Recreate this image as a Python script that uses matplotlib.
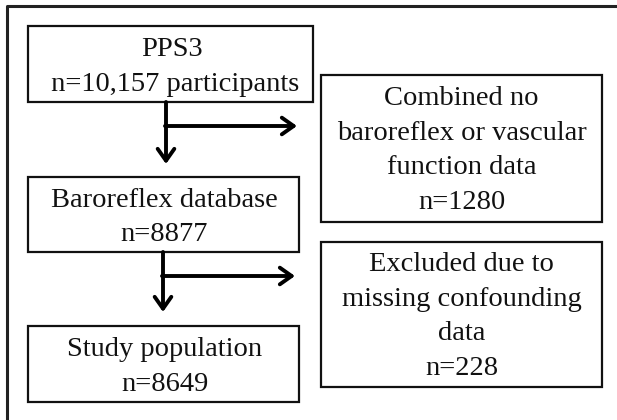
import matplotlib
matplotlib.use("Agg")
import matplotlib.pyplot as plt
from matplotlib.patches import Rectangle

# Flowchart content
main_labels = ["PPS3\n n=10,157 participants",
               "Baroreflex database\nn=8877",
               "Study population\nn=8649"]
excl_labels = ["Combined no\nbaroreflex or vascular\nfunction data\nn=1280",
               "Excluded due to\nmissing confounding\ndata\nn=228"]

plt.rcParams['font.family'] = ['Liberation Serif', 'DejaVu Serif']

fig = plt.figure(figsize=(6.17, 4.20), dpi=100)
ax = fig.add_axes([0, 0, 1, 1])
ax.set_xlim(0, 617)
ax.set_ylim(420, 0)
ax.axis('off')

# outer frame (top and left visible, clipped right/bottom)
ax.plot([7, 7, 617], [420, 6, 6], color='#222222', lw=2.2, solid_capstyle='butt')

main_boxes = [(28, 26, 313, 102), (28, 177, 299, 252), (28, 326, 299, 402)]
excl_boxes = [(321, 75, 602, 222), (321, 242, 602, 387)]

FS = 20.5
LS = 1.5
for (x0, y0, x1, y1), lab in zip(main_boxes, main_labels):
    ax.add_patch(Rectangle((x0, y0), x1 - x0, y1 - y0, fill=False, ec='#111111', lw=1.6))
    ax.text((x0 + x1) / 2 + 1, (y0 + y1) / 2 + 3, lab, ha='center', va='center',
            fontsize=FS, linespacing=LS, color='#111111')
for (x0, y0, x1, y1), lab in zip(excl_boxes, excl_labels):
    ax.add_patch(Rectangle((x0, y0), x1 - x0, y1 - y0, fill=False, ec='#111111', lw=1.6))
    ax.text((x0 + x1) / 2, (y0 + y1) / 2 + 2, lab, ha='center', va='center',
            fontsize=FS, linespacing=LS, color='#111111')

arrow_kw = dict(arrowstyle='->,head_length=0.85,head_width=0.6', lw=2.8, color='black',
                shrinkA=0, shrinkB=0)
# arrows: (x, y_top, y_bottom, y_branch, x_branch_end)
arrows = [(166, 102, 164, 126, 297), (163, 252, 312, 276, 295)]
for x, yt, yb, ybr, xe in arrows:
    ax.annotate('', xy=(x, yb), xytext=(x, yt), arrowprops=arrow_kw)
    ax.annotate('', xy=(xe, ybr), xytext=(x - 1, ybr), arrowprops=arrow_kw)

fig.savefig('out.png', dpi=100)
